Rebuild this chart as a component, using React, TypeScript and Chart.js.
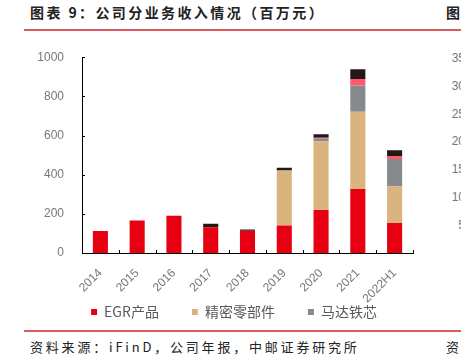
import React, { useEffect, useRef } from 'react';
import { Chart, registerables } from 'chart.js';

Chart.register(...registerables);

const categories = ['2014', '2015', '2016', '2017', '2018', '2019', '2020', '2021', '2022H1'];
const egrProducts = [112, 166, 190, 131, 113, 141, 220, 327, 153];
const precisionParts = [0, 0, 0, 0, 0, 280, 351, 394, 188];
const motorCores = [0, 0, 0, 0, 0, 0, 13, 134, 139];
const otherBusinessA = [0, 0, 0, 0, 0, 0, 5, 34, 15];
const otherBusinessB = [0, 0, 0, 18, 7, 14, 17, 49, 30];
const seriesNames = ['EGR产品', '精密零部件', '马达铁芯', '其他产品', '其他业务'];
const yMax = 1000;
const yStep = 200;
const sideTicks = ['35', '30', '25', '20', '15', '10', '5'];

const COLORS = ['#E60012', '#D9B47E', '#878A8D', '#FF5A6A', '#231815'];
const CJK = '"Noto Sans CJK SC", "Noto Sans", sans-serif';
const LATIN = '"Liberation Sans", Arial, sans-serif';

// inward tick marks on both axes, positioned from the scales
const innerTicks = {
  id: 'innerTicks',
  afterLayout(chart: any) {
    // let tick labels overflow their (deliberately narrow) scale boxes
    chart.scales.x.bottom = chart.height;
    chart.scales.y.left = 0;
  },
  afterDatasetsDraw(chart: any) {
    const { ctx, chartArea } = chart;
    const x = chart.scales.x;
    const y = chart.scales.y;
    ctx.save();
    ctx.strokeStyle = '#000';
    ctx.lineWidth = 1;
    ctx.beginPath();
    y.ticks.forEach((_t: any, i: number) => {
      const py = Math.round(y.getPixelForTick(i)) + 0.5;
      ctx.moveTo(chartArea.left, py);
      ctx.lineTo(chartArea.left + 3, py);
    });
    const n = x.ticks.length;
    for (let i = 0; i <= n; i++) {
      const px = Math.round(chartArea.left + (i * (chartArea.right - chartArea.left)) / n) + 0.5;
      ctx.moveTo(px, chartArea.bottom);
      ctx.lineTo(px, chartArea.bottom - 3);
    }
    ctx.stroke();
    ctx.restore();
  },
};

function BarChart() {
  const ref = useRef<HTMLCanvasElement>(null);
  useEffect(() => {
    if (!ref.current) return;
    const seriesData = [egrProducts, precisionParts, motorCores, otherBusinessA, otherBusinessB];
    const chart = new Chart(ref.current, {
      type: 'bar',
      data: {
        labels: categories,
        datasets: seriesData.map((d, i) => ({
          label: seriesNames[i],
          data: d,
          backgroundColor: COLORS[i],
          borderWidth: 0,
          barPercentage: 0.41,
          categoryPercentage: 1,
        })),
      },
      options: {
        responsive: false,
        animation: false,
        layout: { padding: { left: 55, right: 27, top: 14, bottom: 0 } },
        plugins: {
          tooltip: { enabled: false },
          legend: {
            position: 'bottom',
            labels: {
              boxWidth: 6,
              boxHeight: 6,
              padding: 33,
              color: '#595959',
              font: { size: 14, family: CJK },
              filter: (item: any) => item.datasetIndex < 3,
            },
          },
        },
        scales: {
          x: {
            stacked: true,
            grid: { display: false },
            border: { display: true, color: '#000', width: 1 },
            ticks: {
              color: '#777',
              font: { size: 12, family: LATIN },
              maxRotation: 45,
              minRotation: 45,
              autoSkip: false,
              padding: 5,
            },
            afterFit: (s: any) => {
              s.height = 19;
            },
          },
          y: {
            stacked: true,
            min: 0,
            max: yMax,
            grid: { display: false },
            border: { display: true, color: '#000', width: 1 },
            ticks: {
              stepSize: yStep,
              color: '#777',
              font: { size: 12, family: LATIN },
              padding: 10,
              callback: (v: any) => String(v),
            },
            afterFit: (s: any) => {
              s.width = 27;
            },
          },
        },
      },
      plugins: [innerTicks],
    });
    return () => chart.destroy();
  }, []);
  return (
    <canvas
      ref={ref}
      width={440}
      height={289}
      style={{ position: 'absolute', left: 0, top: 40, width: 440, height: 289 }}
    />
  );
}

export default function App() {
  return (
    <div
      style={{
        position: 'absolute',
        left: 0,
        top: 0,
        width: 461,
        height: 363,
        overflow: 'hidden',
        background: '#fff',
        fontFamily: CJK,
      }}
    >
      <div
        style={{
          position: 'absolute',
          left: 30,
          top: 3,
          fontSize: 14,
          lineHeight: '18px',
          fontWeight: 700,
          letterSpacing: 2.4,
          color: '#222',
          whiteSpace: 'nowrap',
        }}
      >
        图表 9：公司分业务收入情况（百万元）
      </div>
      <div
        style={{
          position: 'absolute',
          left: 446,
          top: 3,
          fontSize: 14,
          lineHeight: '18px',
          fontWeight: 700,
          color: '#222',
        }}
      >
        图
      </div>
      <div style={{ position: 'absolute', left: 24, top: 29, width: 437, height: 1.5, background: '#D9595C' }} />
      {sideTicks.map((t, i) => (
        <div
          key={t}
          style={{
            position: 'absolute',
            right: -4,
            top: 58 + i * 27.8 - 7,
            fontSize: 12,
            lineHeight: '14px',
            fontFamily: LATIN,
            color: '#777',
            textAlign: 'right',
          }}
        >
          {t}
        </div>
      ))}
      <BarChart />
      <div style={{ position: 'absolute', left: 24, top: 330, width: 437, height: 1.5, background: '#D9595C' }} />
      <div
        style={{
          position: 'absolute',
          left: 30,
          top: 338,
          fontSize: 13,
          lineHeight: '18px',
          letterSpacing: 2.8,
          color: '#222',
          whiteSpace: 'nowrap',
        }}
      >
        资料来源：iFinD，公司年报，中邮证券研究所
      </div>
      <div
        style={{
          position: 'absolute',
          left: 446,
          top: 338,
          fontSize: 13,
          lineHeight: '18px',
          color: '#222',
        }}
      >
        资
      </div>
    </div>
  );
}
